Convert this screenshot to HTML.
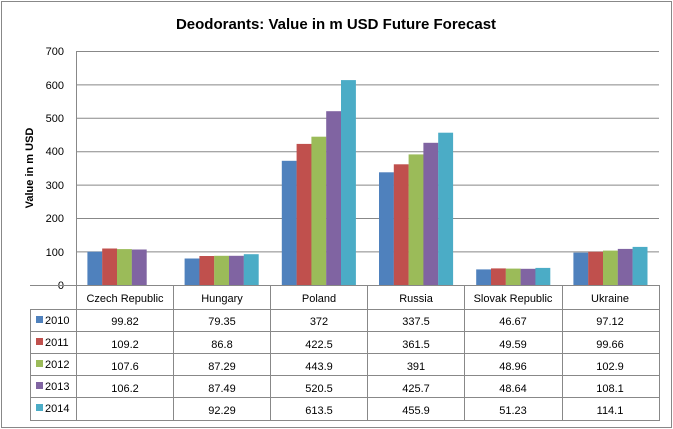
<!DOCTYPE html>
<html><head><meta charset="utf-8"><style>
body{margin:0;background:#fff}
svg{display:block;font-family:"Liberation Sans",sans-serif}
</style></head><body>
<svg width="673" height="429" xmlns="http://www.w3.org/2000/svg">
<rect x="1.5" y="1.5" width="670" height="426" fill="#fff" stroke="#888" stroke-width="1"/>
<text x="336" y="29" text-anchor="middle" font-size="15" font-weight="bold" fill="#000">Deodorants: Value in m USD Future Forecast</text>
<g stroke="#888" stroke-width="1">
<line x1="76" y1="51.5" x2="659" y2="51.5"/>
<line x1="76" y1="84.9" x2="659" y2="84.9"/>
<line x1="76" y1="118.3" x2="659" y2="118.3"/>
<line x1="76" y1="151.7" x2="659" y2="151.7"/>
<line x1="76" y1="185.1" x2="659" y2="185.1"/>
<line x1="76" y1="218.5" x2="659" y2="218.5"/>
<line x1="76" y1="251.9" x2="659" y2="251.9"/>
</g>
<g font-size="11" fill="#000" text-anchor="end">
<text x="64" y="55">700</text><text x="64" y="89">600</text><text x="64" y="122">500</text>
<text x="64" y="155">400</text><text x="64" y="189">300</text><text x="64" y="222">200</text>
<text x="64" y="256">100</text><text x="64" y="289">0</text>
</g>
<text transform="translate(33,168) rotate(-90)" text-anchor="middle" font-size="11" font-weight="bold">Value in m USD</text>
<g>
<rect x="87.4" y="251.7" width="14.9" height="33.3" fill="#4F81BD"/>
<rect x="102.2" y="248.5" width="14.9" height="36.5" fill="#C0504D"/>
<rect x="117.0" y="249.1" width="14.9" height="35.9" fill="#9BBB59"/>
<rect x="131.8" y="249.5" width="14.9" height="35.5" fill="#8064A2"/>

<rect x="184.6" y="258.5" width="14.9" height="26.5" fill="#4F81BD"/>
<rect x="199.4" y="256.0" width="14.9" height="29.0" fill="#C0504D"/>
<rect x="214.2" y="255.8" width="14.9" height="29.2" fill="#9BBB59"/>
<rect x="229.0" y="255.8" width="14.9" height="29.2" fill="#8064A2"/>
<rect x="243.8" y="254.2" width="14.9" height="30.8" fill="#4BACC6"/>

<rect x="281.8" y="160.8" width="14.9" height="124.2" fill="#4F81BD"/>
<rect x="296.6" y="143.9" width="14.9" height="141.1" fill="#C0504D"/>
<rect x="311.4" y="136.7" width="14.9" height="148.3" fill="#9BBB59"/>
<rect x="326.2" y="111.2" width="14.9" height="173.8" fill="#8064A2"/>
<rect x="341.0" y="80.1" width="14.9" height="204.9" fill="#4BACC6"/>

<rect x="379.0" y="172.3" width="14.9" height="112.7" fill="#4F81BD"/>
<rect x="393.8" y="164.3" width="14.9" height="120.7" fill="#C0504D"/>
<rect x="408.6" y="154.4" width="14.9" height="130.6" fill="#9BBB59"/>
<rect x="423.4" y="142.8" width="14.9" height="142.2" fill="#8064A2"/>
<rect x="438.2" y="132.7" width="14.9" height="152.3" fill="#4BACC6"/>

<rect x="476.2" y="269.4" width="14.9" height="15.6" fill="#4F81BD"/>
<rect x="491.0" y="268.4" width="14.9" height="16.6" fill="#C0504D"/>
<rect x="505.8" y="268.6" width="14.9" height="16.4" fill="#9BBB59"/>
<rect x="520.6" y="268.8" width="14.9" height="16.2" fill="#8064A2"/>
<rect x="535.4" y="267.9" width="14.9" height="17.1" fill="#4BACC6"/>

<rect x="573.4" y="252.6" width="14.9" height="32.4" fill="#4F81BD"/>
<rect x="588.2" y="251.7" width="14.9" height="33.3" fill="#C0504D"/>
<rect x="603.0" y="250.6" width="14.9" height="34.4" fill="#9BBB59"/>
<rect x="617.8" y="248.9" width="14.9" height="36.1" fill="#8064A2"/>
<rect x="632.6" y="246.9" width="14.9" height="38.1" fill="#4BACC6"/>
</g>
<g stroke="#888" stroke-width="1" fill="none">
<line x1="76.5" y1="51" x2="76.5" y2="421"/>
<line x1="30" y1="285.5" x2="659" y2="285.5"/>
<line x1="30" y1="309.5" x2="659" y2="309.5"/>
<line x1="30" y1="331.5" x2="659" y2="331.5"/>
<line x1="30" y1="353.5" x2="659" y2="353.5"/>
<line x1="30" y1="375.5" x2="659" y2="375.5"/>
<line x1="30" y1="397.5" x2="659" y2="397.5"/>
<line x1="30" y1="420.5" x2="659" y2="420.5"/>
<line x1="30.5" y1="309" x2="30.5" y2="421"/>
<line x1="173.5" y1="285" x2="173.5" y2="421"/>
<line x1="270.5" y1="285" x2="270.5" y2="421"/>
<line x1="367.5" y1="285" x2="367.5" y2="421"/>
<line x1="464.5" y1="285" x2="464.5" y2="421"/>
<line x1="562.5" y1="285" x2="562.5" y2="421"/>
<line x1="659.5" y1="285" x2="659.5" y2="421"/>
</g>
<g font-size="11" fill="#000" text-anchor="middle">
<text x="125" y="302">Czech Republic</text><text x="222" y="302">Hungary</text><text x="319" y="302">Poland</text>
<text x="416" y="302">Russia</text><text x="513" y="302">Slovak Republic</text><text x="610" y="302">Ukraine</text>
<text x="125" y="325">99.82</text><text x="222" y="325">79.35</text><text x="319" y="325">372</text><text x="416" y="325">337.5</text><text x="513" y="325">46.67</text><text x="610" y="325">97.12</text>
<text x="125" y="348">109.2</text><text x="222" y="348">86.8</text><text x="319" y="348">422.5</text><text x="416" y="348">361.5</text><text x="513" y="348">49.59</text><text x="610" y="348">99.66</text>
<text x="125" y="370">107.6</text><text x="222" y="370">87.29</text><text x="319" y="370">443.9</text><text x="416" y="370">391</text><text x="513" y="370">48.96</text><text x="610" y="370">102.9</text>
<text x="125" y="392">106.2</text><text x="222" y="392">87.49</text><text x="319" y="392">520.5</text><text x="416" y="392">425.7</text><text x="513" y="392">48.64</text><text x="610" y="392">108.1</text>
<text x="222" y="414">92.29</text><text x="319" y="414">613.5</text><text x="416" y="414">455.9</text><text x="513" y="414">51.23</text><text x="610" y="414">114.1</text>
</g>
<g font-size="11" fill="#000">
<rect x="36" y="316" width="7" height="7" fill="#4F81BD"/><text x="45" y="324">2010</text>
<rect x="36" y="338" width="7" height="7" fill="#C0504D"/><text x="45" y="346">2011</text>
<rect x="36" y="360" width="7" height="7" fill="#9BBB59"/><text x="45" y="368">2012</text>
<rect x="36" y="382" width="7" height="7" fill="#8064A2"/><text x="45" y="390">2013</text>
<rect x="36" y="404" width="7" height="7" fill="#4BACC6"/><text x="45" y="412">2014</text>
</g>
</svg>
</body></html>
